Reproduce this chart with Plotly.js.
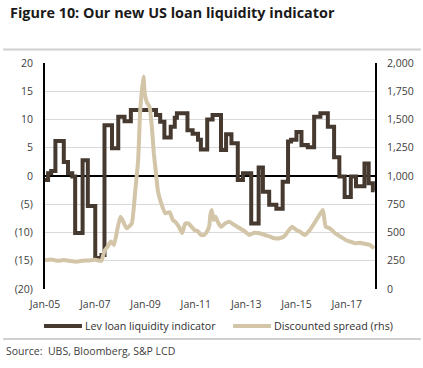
<!DOCTYPE html>
<html>
<head>
<meta charset="utf-8">
<script src="https://cdn.plot.ly/plotly-3.0.1.min.js"></script>
<style>html,body{margin:0;padding:0;background:#fff;}#chart{width:423px;height:368px;}</style>
</head>
<body>
<div id="chart"></div>
<script>
// Lev loan liquidity indicator (left axis), step series
const levDates = ['2005-01-01','2005-02-15','2005-04-01','2005-06-01','2005-10-01','2005-12-01','2006-02-01','2006-03-15','2006-07-01','2006-09-15','2007-01-01','2007-04-01','2007-05-15','2007-09-01','2007-12-01','2008-03-01','2008-06-01','2009-06-01','2009-08-01','2009-10-01','2010-01-01','2010-03-01','2010-04-01','2010-09-01','2010-11-15','2011-02-01','2011-03-15','2011-06-15','2011-09-01','2012-01-01','2012-03-15','2012-06-01','2012-09-01','2012-11-15','2013-03-15','2013-07-01','2013-09-01','2013-12-01','2014-03-15','2014-06-15','2014-09-01','2014-10-15','2015-01-01','2015-03-15','2015-06-15','2015-09-15','2015-12-15','2016-04-01','2016-07-01','2016-09-15','2016-12-01','2017-03-01','2017-05-15','2017-09-15','2017-11-15','2018-01-15','2018-02-10'];
const levValues = [-0.7,0.5,0.9,6.2,2.5,0.5,-0.1,-10.1,2.8,-5.3,-14.5,-14.0,9.0,4.9,10.5,9.7,11.7,10.8,9.6,6.8,8.7,10.3,11.1,8.1,7.5,6.4,4.7,10.0,10.8,4.6,7.4,5.8,-0.7,0.5,-8.4,1.5,-2.8,-5.1,-5.8,-1.0,6.1,6.4,7.8,5.5,5.1,10.5,11.1,8.7,3.3,-0.1,-3.7,-0.1,-1.8,2.2,-1.3,-2.5,-2.5];

// Discounted spread (right axis)
const spreadDates = ['2005-01-01','2005-04-01','2005-07-01','2005-10-01','2006-01-01','2006-04-01','2006-07-01','2006-10-01','2007-01-01','2007-04-01','2007-05-15','2007-07-01','2007-08-15','2007-10-01','2007-11-15','2008-01-01','2008-02-01','2008-04-01','2008-06-15','2008-08-01','2008-09-15','2008-10-15','2008-12-01','2008-12-20','2009-01-20','2009-03-01','2009-04-01','2009-05-01','2009-06-01','2009-07-01','2009-08-15','2009-10-15','2009-12-15','2010-02-01','2010-03-15','2010-05-01','2010-06-15','2010-08-01','2010-09-15','2010-11-01','2010-12-15','2011-02-01','2011-03-15','2011-05-01','2011-06-15','2011-07-15','2011-08-01','2011-08-20','2011-09-15','2011-10-15','2011-11-15','2012-01-01','2012-03-01','2012-05-01','2012-07-15','2012-10-01','2012-12-15','2013-02-15','2013-05-01','2013-07-15','2013-10-01','2013-12-15','2014-02-15','2014-05-01','2014-07-15','2014-09-15','2014-11-01','2015-01-01','2015-02-20','2015-05-01','2015-07-15','2015-09-15','2015-12-01','2016-01-20','2016-03-01','2016-05-01','2016-07-15','2016-10-01','2016-12-15','2017-02-15','2017-05-01','2017-07-15','2017-09-15','2017-12-01','2018-02-01'];
const spreadValues = [255,262,250,256,248,242,250,252,258,250,340,375,420,390,520,640,610,537,580,850,1140,1580,1880,1730,1650,1610,1440,1200,1020,860,760,670,680,610,590,550,495,580,580,550,520,510,478,478,510,560,660,700,610,640,595,551,580,595,566,537,508,478,498,493,478,463,449,449,470,522,551,522,508,478,522,580,655,700,551,537,493,463,434,420,405,410,400,390,360];

const seriesNames = ['Lev loan liquidity indicator', 'Discounted spread (rhs)'];
const xTickVals = ['2005-01-01','2007-01-01','2009-01-01','2011-01-01','2013-01-01','2015-01-01','2017-01-01'];
const xTickText = ['Jan-05','Jan-07','Jan-09','Jan-11','Jan-13','Jan-15','Jan-17'];
const yTickVals = [-20,-15,-10,-5,0,5,10,15,20];
const yTickText = ['(20)','(15)','(10)','(5)','0','5','10','15','20'];

const FONT = 'Open Sans, Noto Sans, sans-serif';
const DARK = '#463a30';
const TAN = '#d3c5a8';
const COLORS = [DARK, TAN];

const traces = [
  {x: levDates, y: levValues, type: 'scatter', mode: 'lines', name: seriesNames[0],
   line: {color: DARK, width: 4, shape: 'hv'}, yaxis: 'y', showlegend: false},
  {x: spreadDates, y: spreadValues, type: 'scatter', mode: 'lines', name: seriesNames[1],
   line: {color: TAN, width: 4, shape: 'spline', smoothing: 0.4}, yaxis: 'y2', showlegend: false}
];

// custom legend (keys as long bars directly followed by text)
const legendY = -0.1637;
const legendKeys = [[-0.003, 0.112], [0.570, 0.685]];
const legendShapes = legendKeys.map((k, i) => ({type: 'line', xref: 'paper', yref: 'paper',
  x0: k[0], x1: k[1], y0: legendY, y1: legendY, line: {color: COLORS[i], width: 4}}));
const legendTexts = legendKeys.map((k, i) => ({xref: 'paper', yref: 'paper', x: k[1] + 0.002, y: legendY,
  xanchor: 'left', yanchor: 'middle', showarrow: false, text: seriesNames[i],
  font: {family: FONT, size: 10.7, color: '#303030'}}));

const layout = {
  width: 423, height: 368,
  margin: {l: 45, r: 48, t: 63, b: 79},
  paper_bgcolor: '#fff', plot_bgcolor: '#fff',
  font: {family: FONT, size: 10.5, color: '#404040'},
  showlegend: false,
  xaxis: {type: 'date', range: ['2005-01-01', '2018-02-15'], tickvals: xTickVals, ticktext: xTickText,
          showgrid: false, zeroline: false, showline: false, ticks: '', ticklabelstandoff: 7,
          tickfont: {family: FONT, size: 10.5, color: '#404040'}},
  yaxis: {range: [-20, 20], tickvals: yTickVals, ticktext: yTickText, showgrid: true, gridcolor: '#d9d9d9', gridwidth: 1,
          zeroline: true, zerolinecolor: '#000', zerolinewidth: 2, showline: true, linecolor: '#000', linewidth: 2,
          ticks: '', ticklabelstandoff: 8, tickfont: {family: FONT, size: 10.5, color: '#404040'}},
  yaxis2: {range: [0, 2000], overlaying: 'y', side: 'right', tickvals: [0,250,500,750,1000,1250,1500,1750,2000],
           tickformat: ',', showgrid: false, zeroline: false, showline: true, linecolor: '#000', linewidth: 2,
           ticks: '', ticklabelstandoff: 8, tickfont: {family: FONT, size: 10.5, color: '#404040'}},
  shapes: [
    {type: 'line', xref: 'paper', yref: 'paper', x0: -0.127, x1: 1.139, y0: 1.0597, y1: 1.0597,
     line: {color: '#d0d0d0', width: 2}},
    {type: 'line', xref: 'paper', yref: 'paper', x0: -0.127, x1: 1.139, y0: -0.221, y1: -0.221,
     line: {color: '#d0d0d0', width: 2}}
  ].concat(legendShapes),
  annotations: [
    {xref: 'paper', yref: 'paper', x: -0.112, y: 1.225, xanchor: 'left', yanchor: 'middle', showarrow: false,
     text: '<b>Figure 10: Our new US loan liquidity indicator</b>', font: {family: FONT, size: 14.4, color: '#1a1a1a'}},
    {xref: 'paper', yref: 'paper', x: -0.124, y: -0.275, xanchor: 'left', yanchor: 'middle', showarrow: false,
     text: 'Source:  UBS, Bloomberg, S&P LCD', font: {family: FONT, size: 10.5, color: '#404040'}}
  ].concat(legendTexts)
};

Plotly.newPlot('chart', traces, layout, {displayModeBar: false, staticPlot: true});
</script>
</body>
</html>
